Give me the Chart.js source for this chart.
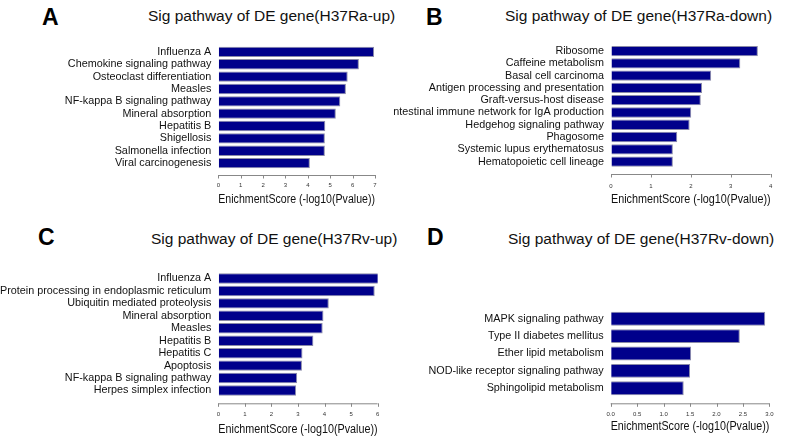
<!DOCTYPE html>
<html>
<head>
<meta charset="utf-8">
<script src="https://cdn.jsdelivr.net/npm/chart.js@4"></script>
<style>
  body { margin: 0; background: #fff; width: 787px; height: 437px; overflow: hidden; position: relative; font-family: "Liberation Sans", Arial, sans-serif; }
  .box { position: absolute; }
  .letter { position: absolute; font-weight: bold; font-size: 23px; color: #000; line-height: 1; }
  .ttl { position: absolute; font-size: 15.5px; color: #111; line-height: 1; white-space: nowrap; }
</style>
</head>
<body>
<div class="letter" style="left:42px;top:6px">A</div>
<div class="letter" style="left:426px;top:6px">B</div>
<div class="letter" style="left:38px;top:226px">C</div>
<div class="letter" style="left:427px;top:226px">D</div>
<div class="ttl" style="left:148px;top:8px">Sig pathway of DE gene(H37Ra-up)</div>
<div class="ttl" style="left:505px;top:8px">Sig pathway of DE gene(H37Ra-down)</div>
<div class="ttl" style="left:151px;top:231px">Sig pathway of DE gene(H37Rv-up)</div>
<div class="ttl" style="left:508px;top:231px">Sig pathway of DE gene(H37Rv-down)</div>

<div class="box" style="left:0;top:0;width:393px;height:215px"><canvas id="cA"></canvas></div>
<div class="box" style="left:393px;top:0;width:394px;height:215px"><canvas id="cB"></canvas></div>
<div class="box" style="left:0;top:215px;width:393px;height:222px"><canvas id="cC"></canvas></div>
<div class="box" style="left:393px;top:215px;width:394px;height:222px"><canvas id="cD"></canvas></div>

<script>
// H37Ra-up
const pathwaysA = ['Influenza A', 'Chemokine signaling pathway', 'Osteoclast differentiation', 'Measles',
  'NF-kappa B signaling pathway', 'Mineral absorption', 'Hepatitis B', 'Shigellosis',
  'Salmonella infection', 'Viral carcinogenesis'];
const scoresA = [6.96, 6.28, 5.78, 5.70, 5.45, 5.25, 4.78, 4.76, 4.76, 4.09];

// H37Ra-down
const pathwaysB = ['Ribosome', 'Caffeine metabolism', 'Basal cell carcinoma', 'Antigen processing and presentation',
  'Graft-versus-host disease', 'Intestinal immune network for IgA production', 'Hedgehog signaling pathway',
  'Phagosome', 'Systemic lupus erythematosus', 'Hematopoietic cell lineage'];
const scoresB = [3.68, 3.24, 2.51, 2.28, 2.25, 2.01, 1.97, 1.66, 1.55, 1.55];

// H37Rv-up
const pathwaysC = ['Influenza A', 'Protein processing in endoplasmic reticulum', 'Ubiquitin mediated proteolysis',
  'Mineral absorption', 'Measles', 'Hepatitis B', 'Hepatitis C', 'Apoptosis',
  'NF-kappa B signaling pathway', 'Herpes simplex infection'];
const scoresC = [6.09, 5.89, 4.16, 3.96, 3.93, 3.58, 3.17, 3.15, 2.97, 2.93];

// H37Rv-down
const pathwaysD = ['MAPK signaling pathway', 'Type II diabetes mellitus', 'Ether lipid metabolism',
  'NOD-like receptor signaling pathway', 'Sphingolipid metabolism'];
const scoresD = [2.92, 2.44, 1.52, 1.50, 1.38];

const xTicksA = [0, 7, 1];
const xTicksB = [0, 4, 1];
const xTicksC = [0, 6, 1];
const xTicksD = [0, 3, 0.5];

const FONT = '"Liberation Sans", Arial, sans-serif';

// R-style axis: line from first to last tick, sitting a bit below the bars
const rAxis = {
  id: 'rAxis',
  afterDraw(chart, args, opts) {
    const xs = chart.scales.x;
    const ctx = chart.ctx;
    const y0 = chart.chartArea.bottom + opts.offset;
    ctx.save();
    ctx.strokeStyle = '#888';
    ctx.lineWidth = 1;
    ctx.beginPath();
    ctx.moveTo(xs.getPixelForValue(xs.min), y0 + 0.5);
    ctx.lineTo(xs.getPixelForValue(xs.max), y0 + 0.5);
    xs.ticks.forEach(t => {
      const px = Math.round(xs.getPixelForValue(t.value)) + 0.5;
      ctx.moveTo(px, y0);
      ctx.lineTo(px, y0 + 3.5);
    });
    ctx.stroke();
    ctx.restore();
  }
};

function makeChart(id, labels, values, ticks, lay) {
  new Chart(document.getElementById(id), {
    type: 'bar',
    data: {
      labels: labels,
      datasets: [{
        data: values,
        backgroundColor: '#00008b',
        borderColor: '#8a8aa8',
        borderWidth: 1,
        barPercentage: lay.bar,
        categoryPercentage: 1
      }]
    },
    options: {
      indexAxis: 'y',
      responsive: true,
      maintainAspectRatio: false,
      animation: false,
      layout: { padding: { top: lay.top, right: lay.right, bottom: lay.bottom, left: 0 } },
      plugins: {
        legend: { display: false },
        tooltip: { enabled: false },
        rAxis: { offset: lay.axisOff }
      },
      scales: {
        y: {
          grid: { display: false, drawTicks: false },
          border: { display: false },
          ticks: { color: '#111', font: { family: FONT, size: 10.8 }, padding: 7, autoSkip: false },
          afterFit: s => { s.width = lay.yw; }
        },
        x: {
          min: ticks[0],
          max: ticks[1],
          grid: { display: true, drawOnChartArea: false, drawTicks: false },
          border: { display: false },
          ticks: {
            stepSize: ticks[2],
            color: '#333',
            font: { family: FONT, size: 6 },
            padding: lay.tickPad,
            callback: v => ticks[2] < 1 ? v.toFixed(1) : v
          },
          title: {
            display: true,
            text: 'EnichmentScore (-log10(Pvalue))',
            color: '#111',
            font: { family: FONT, size: 12 },
            padding: 0
          },
          afterFit: s => { s.height = lay.xh; }
        }
      }
    },
    plugins: [rAxis]
  });
}

makeChart('cA', pathwaysA, scoresA, xTicksA,
  { top: 45.7, right: 18, bottom: 7.8, yw: 218.3, xh: 37.9, tickPad: 12.1, axisOff: 5.7, bar: 0.84 });
makeChart('cB', pathwaysB, scoresB, xTicksB,
  { top: 45, right: 5.3, bottom: 7.8, yw: 218, xh: 39.5, tickPad: 14.7, axisOff: 6.3, bar: 0.84 });
makeChart('cC', pathwaysC, scoresC, xTicksC,
  { top: 57.3, right: 5.3, bottom: 0.5, yw: 218.3, xh: 39.8, tickPad: 13.7, axisOff: 6.6, bar: 0.84 });
makeChart('cD', pathwaysD, scoresD, xTicksD,
  { top: 95, right: 5.3, bottom: 3.1, yw: 217.7, xh: 36.9, tickPad: 13.4, axisOff: 6.3, bar: 0.8 });
</script>
</body>
</html>
